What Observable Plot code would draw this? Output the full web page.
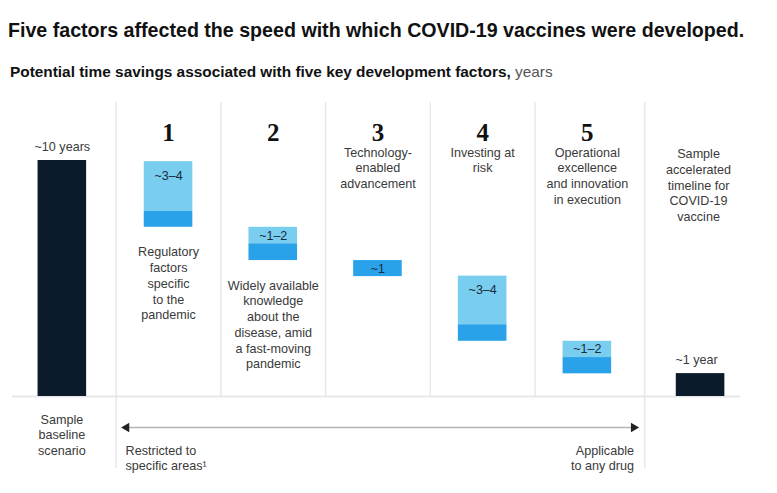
<!DOCTYPE html>
<html><head><meta charset="utf-8">
<script src="https://cdn.jsdelivr.net/npm/d3@7"></script>
<script src="https://cdn.jsdelivr.net/npm/@observablehq/plot@0.6"></script>
<style>
body{margin:0;background:#fff;font-family:"Liberation Sans",Arial,sans-serif;}
#wrap{position:relative;width:777px;height:493px;overflow:hidden;background:#fff}
#title{position:absolute;left:8px;top:17px;font-size:20px;font-weight:bold;color:#111;white-space:nowrap;line-height:26px}
#subtitle{position:absolute;left:10px;top:63px;font-size:14px;font-weight:bold;color:#111;white-space:nowrap;line-height:18px}
#subtitle span{font-weight:normal;color:#555}
#chart{position:absolute;left:0;top:90px}
</style></head>
<body><div id="wrap">
<div id="title">Five factors affected the speed with which COVID-19 vaccines were developed.</div>
<div id="subtitle">Potential time savings associated with five key development factors, <span>years</span></div>
<div id="chart"></div></div>
<script>
const columns = ["baseline", "1", "2", "3", "4", "5", "accelerated"];
const factorIds = ["1", "2", "3", "4", "5"];
const factorTop = [9.95, 7.17, 5.76, 5.1, 2.34];
const factorMid = [7.84, 6.47, 5.76, 3.04, 1.65];
const factorBottom = [7.17, 5.76, 5.08, 2.34, 0.96];
const factorLabels = ["~3–4", "~1–2", "~1", "~3–4", "~1–2"];
const factorNames = [
  "Regulatory\nfactors\nspecific\nto the\npandemic",
  "Widely available\nknowledge\nabout the\ndisease, amid\na fast-moving\npandemic",
  "Technology-\nenabled\nadvancement",
  "Investing at\nrisk",
  "Operational\nexcellence\nand innovation\nin execution"
];
const endpointCols = ["baseline", "accelerated"];
const endpointYears = [10, 0.97];
const endpointLabels = ["~10 years", "~1 year"];
const endpointNames = ["Sample\nbaseline\nscenario", "Sample\naccelerated\ntimeline for\nCOVID-19\nvaccine"];
const arrowLabels = ["Restricted to\nspecific areas¹", "Applicable\nto any drug"];

// fit title widths
function fit(id, target) {
  const el = document.getElementById(id);
  const w = el.getBoundingClientRect().width;
  const fs = parseFloat(getComputedStyle(el).fontSize);
  el.style.fontSize = (fs * target / w) + "px";
}
fit("title", 737);
fit("subtitle", 543);

const factors = factorIds.map((id, i) => ({
  id, top: factorTop[i], mid: factorMid[i], bottom: factorBottom[i],
  label: factorLabels[i], name: factorNames[i]
}));
const endpoints = endpointCols.map((c, i) => ({col: c, v: endpointYears[i], label: endpointLabels[i], name: endpointNames[i]}));
const baseEnd = endpoints.slice(0, 1), accEnd = endpoints.slice(1);

const W = 777, H = 403, mL = 18.1, mR = 40.2, pIn = 0.536, pOut = 0.2;
const step = (W - mL - mR) / (columns.length - pIn + 2 * pOut);
const navy = "#0b1b2b", light = "#79cdee", blue = "#2aa2ea";
const txt = "#3a3a3a";
const font = "Liberation Sans, Arial, sans-serif";
const lastShift = 8.5;

const labelY = d => d.top === d.mid ? (d.top + d.bottom) / 2 : d.top - Math.min((d.top - d.mid) / 2, 0.6);

const plot = Plot.plot({
  width: W, height: H,
  marginTop: 12, marginBottom: 97, marginLeft: mL, marginRight: mR,
  x: {type: "band", domain: columns, paddingInner: pIn, paddingOuter: pOut, round: false, axis: null},
  y: {domain: [0, 10], range: [306, 70], axis: null},
  style: {fontFamily: font, background: "#fff", color: txt},
  marks: [
    Plot.ruleX(["2", "3", "4", "5"], {x: d => d, dx: -step / 2, stroke: "#e8e8e8", strokeWidth: 1.5}),
    Plot.ruleX(["1"], {x: d => d, dx: -step / 2, stroke: "#e8e8e8", strokeWidth: 1.5, insetBottom: -72}),
    Plot.ruleX(["accelerated"], {x: d => d, dx: -step / 2 + 5, stroke: "#e8e8e8", strokeWidth: 1.5, insetBottom: -72}),
    Plot.ruleY([0], {stroke: "#e8e8e8", strokeWidth: 2, insetLeft: -6, insetRight: -3}),
    Plot.barY(baseEnd, {x: "col", y1: 0, y2: "v", fill: navy, dx: -1.5}),
    Plot.barY(accEnd, {x: "col", y1: 0, y2: "v", fill: navy, dx: lastShift}),
    Plot.barY(factors, {x: "id", y1: "mid", y2: "top", fill: light}),
    Plot.barY(factors, {x: "id", y1: "bottom", y2: "mid", fill: blue}),
    Plot.text(factors, {x: "id", y: labelY, text: "label", fontSize: 12.5, fill: "#1b2a3a"}),
    Plot.text(factors, {x: "id", text: "id", frameAnchor: "top", dy: 21, fontSize: 25, fontWeight: "bold", fontFamily: "Liberation Serif, DejaVu Serif, serif", fill: "#111"}),
    Plot.text(factors.slice(0, 2), {x: "id", y: "bottom", text: "name", lineAnchor: "top", dy: 18, fontSize: 12.6, lineHeight: 1.25, fill: txt}),
    Plot.text(factors.slice(2), {x: "id", text: "name", frameAnchor: "top", lineAnchor: "top", dy: 43, fontSize: 12.6, lineHeight: 1.25, fill: txt}),
    Plot.text(baseEnd, {x: "col", y: "v", text: "label", lineAnchor: "bottom", dy: -10, dx: -1.5, fontSize: 12.6, fill: txt}),
    Plot.text(accEnd, {x: "col", y: "v", text: "label", lineAnchor: "bottom", dy: -10, dx: lastShift - 4, fontSize: 12.6, fill: txt}),
    Plot.text(baseEnd, {x: "col", text: "name", frameAnchor: "bottom", lineAnchor: "top", dy: 16, dx: -2, fontSize: 12.6, lineHeight: 1.25, fill: txt}),
    Plot.text(accEnd, {x: "col", text: "name", frameAnchor: "top", lineAnchor: "top", dy: 44.5, dx: lastShift - 2, fontSize: 12.6, lineHeight: 1.25, fill: txt}),
    Plot.ruleY([0], {x1: () => "1", x2: () => "5", dy: 31, insetLeft: -17.7, insetRight: -22, stroke: "#b5b5b5", strokeWidth: 1.5}),
    Plot.dot(["1"], {x: d => d, y: 0, dy: 31, dx: -42, symbol: "triangle", r: 3.5, rotate: -90, fill: "#222", stroke: null}),
    Plot.dot(["5"], {x: d => d, y: 0, dy: 31, dx: 46.3, symbol: "triangle", r: 3.5, rotate: 90, fill: "#222", stroke: null}),
    Plot.text([arrowLabels[0]], {x: () => "1", y: 0, text: d => d, dx: -43, dy: 47, lineAnchor: "top", textAnchor: "start", fontSize: 12.6, lineHeight: 1.25, fill: txt}),
    Plot.text([arrowLabels[1]], {x: () => "5", y: 0, text: d => d, dx: 46.6, dy: 47, lineAnchor: "top", textAnchor: "end", fontSize: 12.6, lineHeight: 1.25, fill: txt})
  ]
});
document.getElementById("chart").appendChild(plot);
</script>
</body></html>
